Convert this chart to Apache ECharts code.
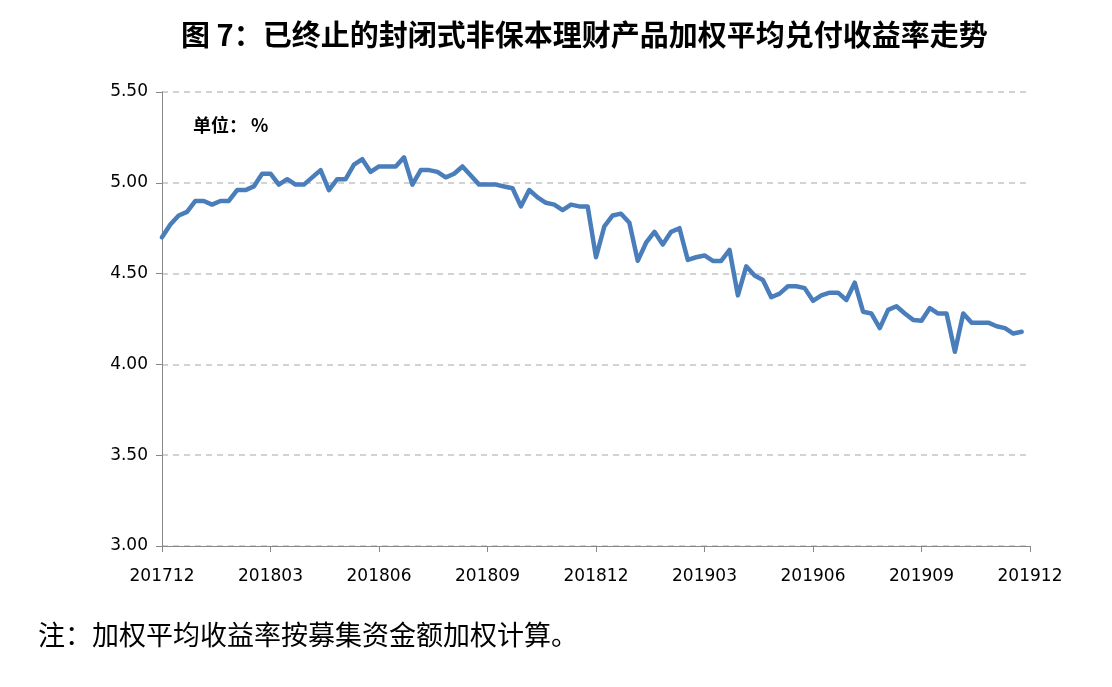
<!DOCTYPE html>
<html>
<head>
<meta charset="utf-8">
<script src="https://cdn.jsdelivr.net/npm/echarts@6/dist/echarts.min.js"></script>
<style>
html,body{margin:0;padding:0;background:#fff;}
#chart{width:1112px;height:687px;}
</style>
</head>
<body>
<div id="chart"></div>
<script>
// Weekly weighted average yield (%), 201712 - 201912
const yieldValues = [
  4.70, 4.77, 4.82, 4.84, 4.90, 4.90, 4.88, 4.90, 4.90, 4.96,
  4.96, 4.98, 5.05, 5.05, 4.99, 5.02, 4.99, 4.99, 5.03, 5.07,
  4.96, 5.02, 5.02, 5.10, 5.13, 5.06, 5.09, 5.09, 5.09, 5.14,
  4.99, 5.07, 5.07, 5.06, 5.03, 5.05, 5.09, 5.04, 4.99, 4.99,
  4.99, 4.98, 4.97, 4.87, 4.96, 4.92, 4.89, 4.88, 4.85, 4.88,
  4.87, 4.87, 4.59, 4.76, 4.82, 4.83, 4.78, 4.57, 4.67, 4.73,
  4.66, 4.73, 4.75, 4.575, 4.59, 4.60, 4.57, 4.57, 4.63, 4.38,
  4.54, 4.49, 4.465, 4.37, 4.39, 4.43, 4.43, 4.42, 4.35, 4.38,
  4.395, 4.395, 4.355, 4.45, 4.29, 4.28, 4.20, 4.30, 4.32, 4.28,
  4.245, 4.24, 4.31, 4.28, 4.28, 4.07, 4.28, 4.23, 4.23, 4.23,
  4.21, 4.20, 4.17, 4.18
];
const xTickLabels = ['201712','201803','201806','201809','201812','201903','201906','201909','201912'];
const weeksPerTick = 13;
const titleText = '图 7：已终止的封闭式非保本理财产品加权平均兑付收益率走势';
const unitText = '单位： %';
const noteText = '注：加权平均收益率按募集资金额加权计算。';

const seriesData = yieldValues.map((v, i) => [i, v]);

const chart = echarts.init(document.getElementById('chart'), null, {renderer: 'canvas'});
chart.setOption({
  backgroundColor: '#ffffff',
  animation: false,
  title: [
    {
      text: titleText,
      left: 176,
      top: 15,
      textStyle: {fontFamily: 'Noto Sans CJK SC', fontWeight: 'bold', fontSize: 29, color: '#000'}
    },
    {
      text: noteText,
      left: 33,
      top: 616,
      textStyle: {fontFamily: 'Noto Sans CJK SC', fontWeight: 'normal', fontSize: 27, color: '#000'}
    }
  ],
  graphic: [
    {
      type: 'text',
      left: 193,
      top: 116,
      style: {text: unitText, font: 'bold 18px "Noto Sans CJK SC"', fill: '#000'}
    }
  ],
  grid: {left: 162, right: 82, top: 92, bottom: 141, containLabel: false},
  xAxis: {
    type: 'value',
    min: 0,
    max: weeksPerTick * (xTickLabels.length - 1),
    interval: weeksPerTick,
    axisLine: {show: true, lineStyle: {color: '#888', width: 1}},
    axisTick: {show: true, length: 6, lineStyle: {color: '#888'}},
    splitLine: {show: false},
    axisLabel: {
      color: '#000',
      fontFamily: 'DejaVu Sans',
      fontSize: 17,
      margin: 22,
      formatter: v => xTickLabels[Math.round(v / weeksPerTick)] || ''
    }
  },
  yAxis: {
    type: 'value',
    min: 3.0,
    max: 5.5,
    interval: 0.5,
    axisLine: {show: true, lineStyle: {color: '#888', width: 1}},
    axisTick: {show: true, length: 6, lineStyle: {color: '#888'}},
    splitLine: {show: true, lineStyle: {color: '#c4c4c4', type: [6, 5], width: 1.5}},
    axisLabel: {
      color: '#000',
      fontFamily: 'DejaVu Sans',
      fontSize: 17,
      margin: 14,
      formatter: v => v.toFixed(2)
    }
  },
  series: [
    {
      type: 'line',
      data: seriesData,
      showSymbol: false,
      symbol: 'none',
      lineStyle: {color: '#4a7ebb', width: 4.5, join: 'round', cap: 'round'},
      z: 3
    }
  ]
});
</script>
</body>
</html>
